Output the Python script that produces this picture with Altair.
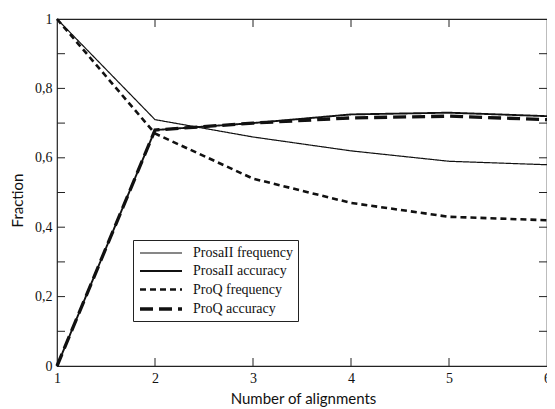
import altair as alt
import pandas as pd

# ---- data ----
alignments = [1, 2, 3, 4, 5, 6]
prosa_freq = [1.0, 0.71, 0.66, 0.62, 0.59, 0.58]
prosa_acc = [0.0, 0.68, 0.70, 0.725, 0.73, 0.72]
proq_freq = [1.0, 0.67, 0.54, 0.47, 0.43, 0.42]
proq_acc = [0.0, 0.68, 0.70, 0.715, 0.72, 0.71]
series_names = ["ProsaII frequency", "ProsaII accuracy", "ProQ frequency", "ProQ accuracy"]
y_label_values = [0, 0.2, 0.4, 0.6, 0.8, 1.0]
y_tick_values = [0.1, 0.2, 0.3, 0.4, 0.5, 0.6, 0.7, 0.8, 0.9]
x_tick_values = [2, 3, 4, 5]

W, H = 490, 347

rows = []
for name, vals in zip(series_names, [prosa_freq, prosa_acc, proq_freq, proq_acc]):
    for a, v in zip(alignments, vals):
        rows.append({"alignments": a, "fraction": v, "series": name})
df = pd.DataFrame(rows)
ytk = pd.DataFrame({"fraction": y_tick_values})
xtk = pd.DataFrame({"alignments": x_tick_values})

xscale = alt.Scale(domain=[1, 6], nice=False, zero=False)
yscale = alt.Scale(domain=[0, 1], nice=False)

legend = alt.Legend(
    title=None, orient="none", legendX=76, legendY=221,
    symbolType="M-1,0H5", symbolSize=196, symbolStrokeColor="#111",
    labelFont="Liberation Serif", labelFontSize=14, labelColor="#111",
    labelOffset=37, padding=5, rowPadding=3,
    strokeColor="#222", fillColor="white",
)

lines = alt.Chart(df).mark_line(color="#111").encode(
    x=alt.X("alignments:Q", scale=xscale, axis=alt.Axis(
        values=alignments, format="d", title="Number of alignments",
        ticks=False, domain=False, grid=False,
        labelFont="Liberation Serif", labelFontSize=14, labelColor="#111", labelPadding=5,
        labelFlush=False,
        titleFont="Lato", titleFontSize=15, titleFontWeight="normal", titleColor="#111",
        titleX=246, titleY=32, titleBaseline="middle", titleAlign="center")),
    y=alt.Y("fraction:Q", scale=yscale, axis=alt.Axis(
        values=y_label_values,
        labelExpr="datum.value == 0 ? '0' : datum.value == 1 ? '1' : replace(format(datum.value, '.1f'), '.', ',')",
        title="Fraction", ticks=False, domain=False, grid=False,
        labelFont="Liberation Serif", labelFontSize=14, labelColor="#111", labelPadding=5,
        labelFlush=False,
        titleFont="Lato", titleFontSize=15, titleFontWeight="normal", titleColor="#111",
        titleX=-40, titleY=181, titleBaseline="middle", titleAlign="center", titleAngle=-90)),
    strokeDash=alt.StrokeDash("series:N", sort=series_names,
        scale=alt.Scale(domain=series_names, range=[[1, 0], [1, 0], [6, 4], [13, 6]]),
        legend=legend),
    strokeWidth=alt.StrokeWidth("series:N", sort=series_names,
        scale=alt.Scale(domain=series_names, range=[1.2, 3.3, 1.2, 3.3]),
        legend=legend),
    order=alt.Order("alignments:Q"),
)

tick_color = "#222"
left_ticks = alt.Chart(ytk).mark_rule(color=tick_color, strokeWidth=1).encode(
    y=alt.Y("fraction:Q", scale=yscale), x=alt.value(0), x2=alt.value(8))
right_ticks = alt.Chart(ytk).mark_rule(color=tick_color, strokeWidth=1).encode(
    y=alt.Y("fraction:Q", scale=yscale), x=alt.value(W - 8), x2=alt.value(W))
top_ticks = alt.Chart(xtk).mark_rule(color=tick_color, strokeWidth=1).encode(
    x=alt.X("alignments:Q", scale=xscale), y=alt.value(0), y2=alt.value(8))
bottom_ticks = alt.Chart(xtk).mark_rule(color=tick_color, strokeWidth=1).encode(
    x=alt.X("alignments:Q", scale=xscale), y=alt.value(H - 8), y2=alt.value(H))

chart = alt.layer(lines, left_ticks, right_ticks, top_ticks, bottom_ticks).properties(
    width=W, height=H,
    autosize=alt.AutoSizeParams(type="none"),
    padding={"left": 49, "top": 11, "right": 0, "bottom": 46},
    background="white",
).configure_view(stroke="#222", strokeWidth=1.2)

chart.save("out.html", embed_options={"renderer": "svg", "actions": False})
